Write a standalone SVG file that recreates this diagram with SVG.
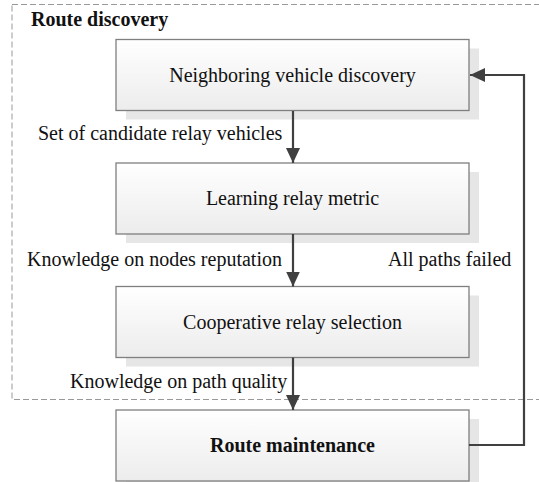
<svg xmlns="http://www.w3.org/2000/svg" width="539" height="482" viewBox="0 0 539 482">
<defs>
<linearGradient id="g" x1="0" y1="0" x2="0" y2="1">
<stop offset="0" stop-color="#ffffff"/>
<stop offset="1" stop-color="#ececec"/>
</linearGradient>
<marker id="ah" markerWidth="15" markerHeight="14" refX="15" refY="7" orient="auto" markerUnits="userSpaceOnUse">
<path d="M0,0 L15,7 L0,14 Z" fill="#404040"/>
</marker>
</defs>
<style>
.shadow{fill:#e6e6e6}
.box{fill:url(#g);stroke:#7f7f7f;stroke-width:1.3}
.t{font-family:"Liberation Serif","Times New Roman",serif;font-size:20px;fill:#111}
.b{font-weight:bold}
.c{text-anchor:middle}
.edge{fill:none;stroke:#404040;stroke-width:2.2}
</style>
<rect x="12" y="4.5" width="540" height="395" fill="none" stroke="#999" stroke-width="1" stroke-dasharray="6,3"/>
<text class="t b" x="31" y="26">Route discovery</text>
<g id="n1">
<rect class="shadow" x="126" y="48.5" width="353" height="71"/>
<rect class="box" x="116" y="39.5" width="353" height="71"/>
<text class="t c" x="292.5" y="81.5">Neighboring vehicle discovery</text>
</g>
<g id="n2">
<rect class="shadow" x="126" y="172" width="353" height="71"/>
<rect class="box" x="116" y="163" width="353" height="71"/>
<text class="t c" x="292.5" y="205">Learning relay metric</text>
</g>
<g id="n3">
<rect class="shadow" x="126" y="295.5" width="353" height="71"/>
<rect class="box" x="116" y="286.5" width="353" height="71"/>
<text class="t c" x="292.5" y="328.5">Cooperative relay selection</text>
</g>
<g id="n4">
<rect class="shadow" x="126" y="419" width="353" height="71"/>
<rect class="box" x="116" y="410" width="353" height="71"/>
<text class="t b c" x="292.5" y="452">Route maintenance</text>
</g>
<g id="connectors">
<line class="edge" x1="293" y1="111" x2="293" y2="163" marker-end="url(#ah)"/>
<line class="edge" x1="293" y1="234" x2="293" y2="286.5" marker-end="url(#ah)"/>
<line class="edge" x1="293" y1="357.5" x2="293" y2="410" marker-end="url(#ah)"/>
<polyline class="edge" points="469,445 524,445 524,75 470,75" marker-end="url(#ah)"/>
</g>
<text class="t" x="38" y="140">Set of candidate relay vehicles</text>
<text class="t" x="27" y="266">Knowledge on nodes reputation</text>
<text class="t" x="388" y="266">All paths failed</text>
<text class="t" x="70" y="388">Knowledge on path quality</text>
</svg>
